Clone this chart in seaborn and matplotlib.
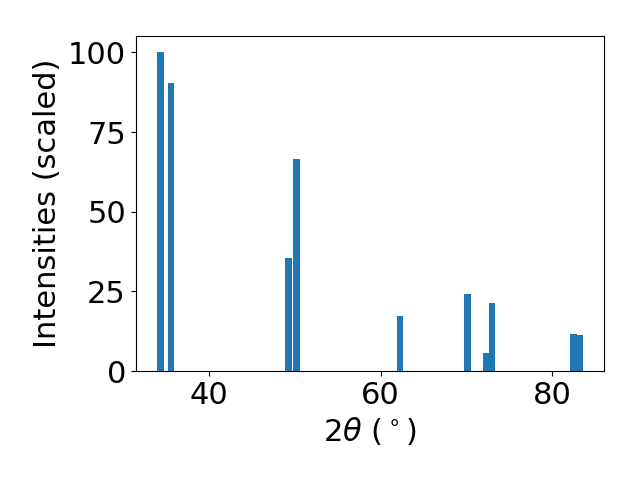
import matplotlib
matplotlib.use("Agg")
import matplotlib.pyplot as plt
from matplotlib.ticker import MultipleLocator
import seaborn as sns
import pandas as pd

two_theta = [34.33, 35.56, 49.29, 50.22, 62.28, 70.1, 72.3, 73.0, 82.5, 83.2]
intensity = [100, 90.3, 35.4, 66.5, 17.2, 24.1, 5.6, 21.3, 11.6, 11.3]

df = pd.DataFrame({"two_theta": two_theta, "intensity": intensity})

plt.rcParams["font.size"] = 22

fig, ax = plt.subplots(figsize=(6.4, 4.8), dpi=100)

# native_scale width is relative to the smallest gap between peaks
min_gap = min(b - a for a, b in zip(sorted(two_theta), sorted(two_theta)[1:]))
sns.barplot(
    data=df, x="two_theta", y="intensity", native_scale=True,
    width=0.8 / min_gap, color="#1f77b4", saturation=1,
    errorbar=None, linewidth=0, ax=ax
)

ax.yaxis.set_major_locator(MultipleLocator(25))
ax.set_xlabel(r"$2\theta$ ($^\circ$)")
ax.set_ylabel("Intensities (scaled)")

fig.subplots_adjust(left=0.212, right=0.944, top=0.924, bottom=0.227)
plt.savefig("out.png", dpi=100)
